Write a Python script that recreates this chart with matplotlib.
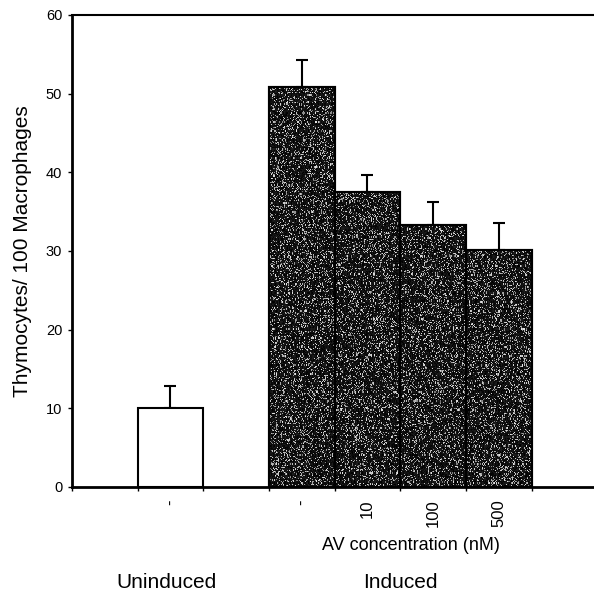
import matplotlib
matplotlib.use("Agg")
import matplotlib.pyplot as plt
import numpy as np

plt.rcParams['font.family'] = ['Liberation Sans', 'DejaVu Sans']

# Data
categories = ["", "Uninduced", "", "Induced", "10", "100", "500", ""]
tick_labels = ["", "-", "", "-", "10", "100", "500", ""]
uninduced_value = [10.0]
uninduced_err = [2.9]
induced_values = [50.8, 37.5, 33.3, 30.1]
induced_errs = [3.5, 2.2, 2.9, 3.5]
uninduced_pos = [1]
induced_pos = [3, 4, 5, 6]

fig = plt.figure(figsize=(5.94, 5.97), dpi=100)
ax = fig.add_axes([72/594, 1-487/597, 1-72/594, (487-15)/597])

ax.bar([p + 0.5 for p in uninduced_pos], uninduced_value, width=1.0,
       color='white', edgecolor='black', linewidth=1.5, zorder=2)
ax.errorbar([p + 0.5 for p in uninduced_pos], uninduced_value,
            yerr=[[0]*len(uninduced_err), uninduced_err], fmt='none',
            ecolor='black', elinewidth=1.5, capsize=4, capthick=1.5, zorder=1)

bars = ax.bar([p + 0.5 for p in induced_pos], induced_values, width=1.0,
              color='#2e2e2e', edgecolor='black', linewidth=1.5, zorder=2)
# stippled texture (decorative only), clipped to each bar
rng = np.random.default_rng(3)
for b in bars:
    tex = np.where(rng.random((420, 70)) < 0.2, rng.uniform(0.45, 0.9, (420, 70)),
                   rng.uniform(0.0, 0.12, (420, 70)))
    x0, y0 = b.get_x(), b.get_y()
    im = ax.imshow(tex, cmap='gray', vmin=0, vmax=1, interpolation='nearest',
                   extent=[x0, x0 + b.get_width(), 0, 60], aspect='auto', zorder=2.5)
    im.set_clip_path(b)
    b2 = ax.bar(x0 + b.get_width()/2, b.get_height(), width=b.get_width(),
                fill=False, edgecolor='black', linewidth=1.5, zorder=3)
ax.errorbar([p + 0.5 for p in induced_pos], induced_values,
            yerr=[[0]*len(induced_errs), induced_errs], fmt='none',
            ecolor='black', elinewidth=1.5, capsize=4, capthick=1.5, zorder=1)

ax.set_xlim(0, 7.95)
ax.set_ylim(0, 60)
ax.set_yticks(range(0, 61, 10))
ax.tick_params(axis='y', direction='out', length=3, width=1, labelsize=10.5, pad=4)

ax.set_xticks(range(0, 8))
ax.set_xticklabels([])
ax.set_xticks([i + 0.5 for i in range(8)], minor=True)
ax.set_xticklabels(tick_labels, minor=True, rotation=90, fontsize=12)
ax.tick_params(axis='x', which='major', direction='out', length=3, width=1)
ax.tick_params(axis='x', which='minor', length=0, pad=9)

for s in ['left', 'bottom']:
    ax.spines[s].set_linewidth(2)
ax.spines['top'].set_linewidth(1.5)
ax.spines['right'].set_visible(False)

ax.set_ylabel("Thymocytes/ 100 Macrophages", fontsize=15, labelpad=10)

fig.text(411/594, 1-545/597, "AV concentration (nM)", ha='center', va='center', fontsize=13)
fig.text(166/594, 1-582/597, "Uninduced", ha='center', va='center', fontsize=15)
fig.text(400/594, 1-582/597, "Induced", ha='center', va='center', fontsize=15)

fig.savefig("out.png", dpi=100)
